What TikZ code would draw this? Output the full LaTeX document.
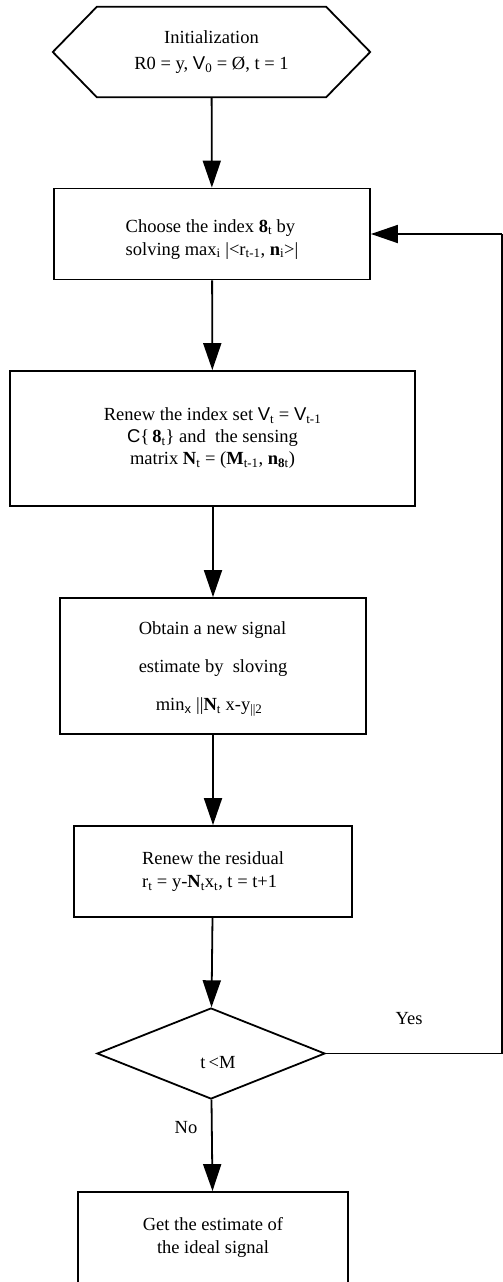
\documentclass[tikz,border=0pt]{standalone}
\usepackage{fontspec}
\setmainfont{Liberation Serif}
\setsansfont{Liberation Sans}
\usetikzlibrary{arrows.meta,shapes.geometric}
\begin{document}
\begin{tikzpicture}[x=1pt,y=-1pt,
  every node/.style={font=\fontsize{18.5}{23}\selectfont},
  line/.style={line width=1.8pt},
  flow/.style={line, -{Triangle[length=27pt,width=18pt]}},
  procbox/.style={draw, line width=1.8pt, rectangle, inner sep=0pt},
  decision/.style={draw, line width=1.8pt, diamond, inner sep=0pt,
    minimum width=228pt, minimum height=91pt},
  tag/.style={inner sep=0pt}
]
\useasboundingbox (0,0) rectangle (503,1282);
\clip (0,0) rectangle (503,1282);

% start: hexagon drawn around a borderless node
\node[tag, minimum width=317pt, minimum height=90pt, align=center,
      font=\fontsize{18.5}{26}\selectfont] (init) at (211.5,52)
  {Initialization\\R0 = y,\ \textsf{V}\textsubscript{0} = Ø, t = 1};
\draw[line] (init.west) -- ([xshift=44pt]init.north west) -- ([xshift=-44pt]init.north east)
  -- (init.east) -- ([xshift=-44pt]init.south east) -- ([xshift=44pt]init.south west) -- cycle;

\node[procbox, minimum width=316pt, minimum height=91pt, align=left] (choose) at (212,234)
  {\rule{0pt}{23pt}Choose the index \textbf{8}\textsubscript{t} by\\
   solving max\textsubscript{i} |<r\textsubscript{t-1}, \textbf{n}\textsubscript{i}>|};

\node[procbox, minimum width=405pt, minimum height=135pt, align=center,
      font=\fontsize{18.5}{22}\selectfont] (renew) at (212.5,438.5)
  {Renew the index set \textsf{V}\textsubscript{t} = \textsf{V}\textsubscript{t-1}\\
   \textsf{C}\{\,\textbf{8}\textsubscript{t}\} and\ \ the sensing\\
   matrix \textbf{N}\textsubscript{t} = (\textbf{M}\textsubscript{t-1}, \textbf{n}\textsubscript{\textbf{8}t})};

\node[procbox, minimum width=306pt, minimum height=136pt, align=left,
      font=\fontsize{18.5}{38}\selectfont] (obtain) at (213,666)
  {\rule{0pt}{19pt}Obtain a new signal\\
   estimate by\ \ sloving\\
   \hspace*{17pt}min\textsubscript{\textsf{x}} ||\textbf{N}\textsubscript{t} x-y\textsubscript{||2}};

\node[procbox, minimum width=278pt, minimum height=91pt, align=left] (resid) at (213,871.5)
  {Renew the residual\\
   r\textsubscript{t} = y-\textbf{N}\textsubscript{t}x\textsubscript{t}, t = t+1};

\node[decision] (test) at (211,1053.5) {\smash{\raisebox{-15pt}{\hspace*{14pt}t{\,}<M}}};

\node[procbox, minimum width=270pt, minimum height=91pt, align=center] (result) at (213,1237.5)
  {Get the estimate of\\the ideal signal};

\node[tag] (yes) at (409,1019) {Yes};
\node[tag] (no) at (186,1128) {No};

\coordinate (yesend) at (502,1053.5);
\coordinate (back) at (502,234);

\draw[flow] (init) -- (choose);
\draw[flow] (choose) -- (renew);
\draw[flow] (renew.south -| obtain.north) -- (obtain);
\draw[flow] (obtain) -- (resid);
\draw[flow] (resid) -- (test);
\draw[flow] (test) -- (result);
\draw[line] (test.east) -- (yesend) -- (back);
\draw[flow] (back) -- (choose.east);
\end{tikzpicture}
\end{document}
